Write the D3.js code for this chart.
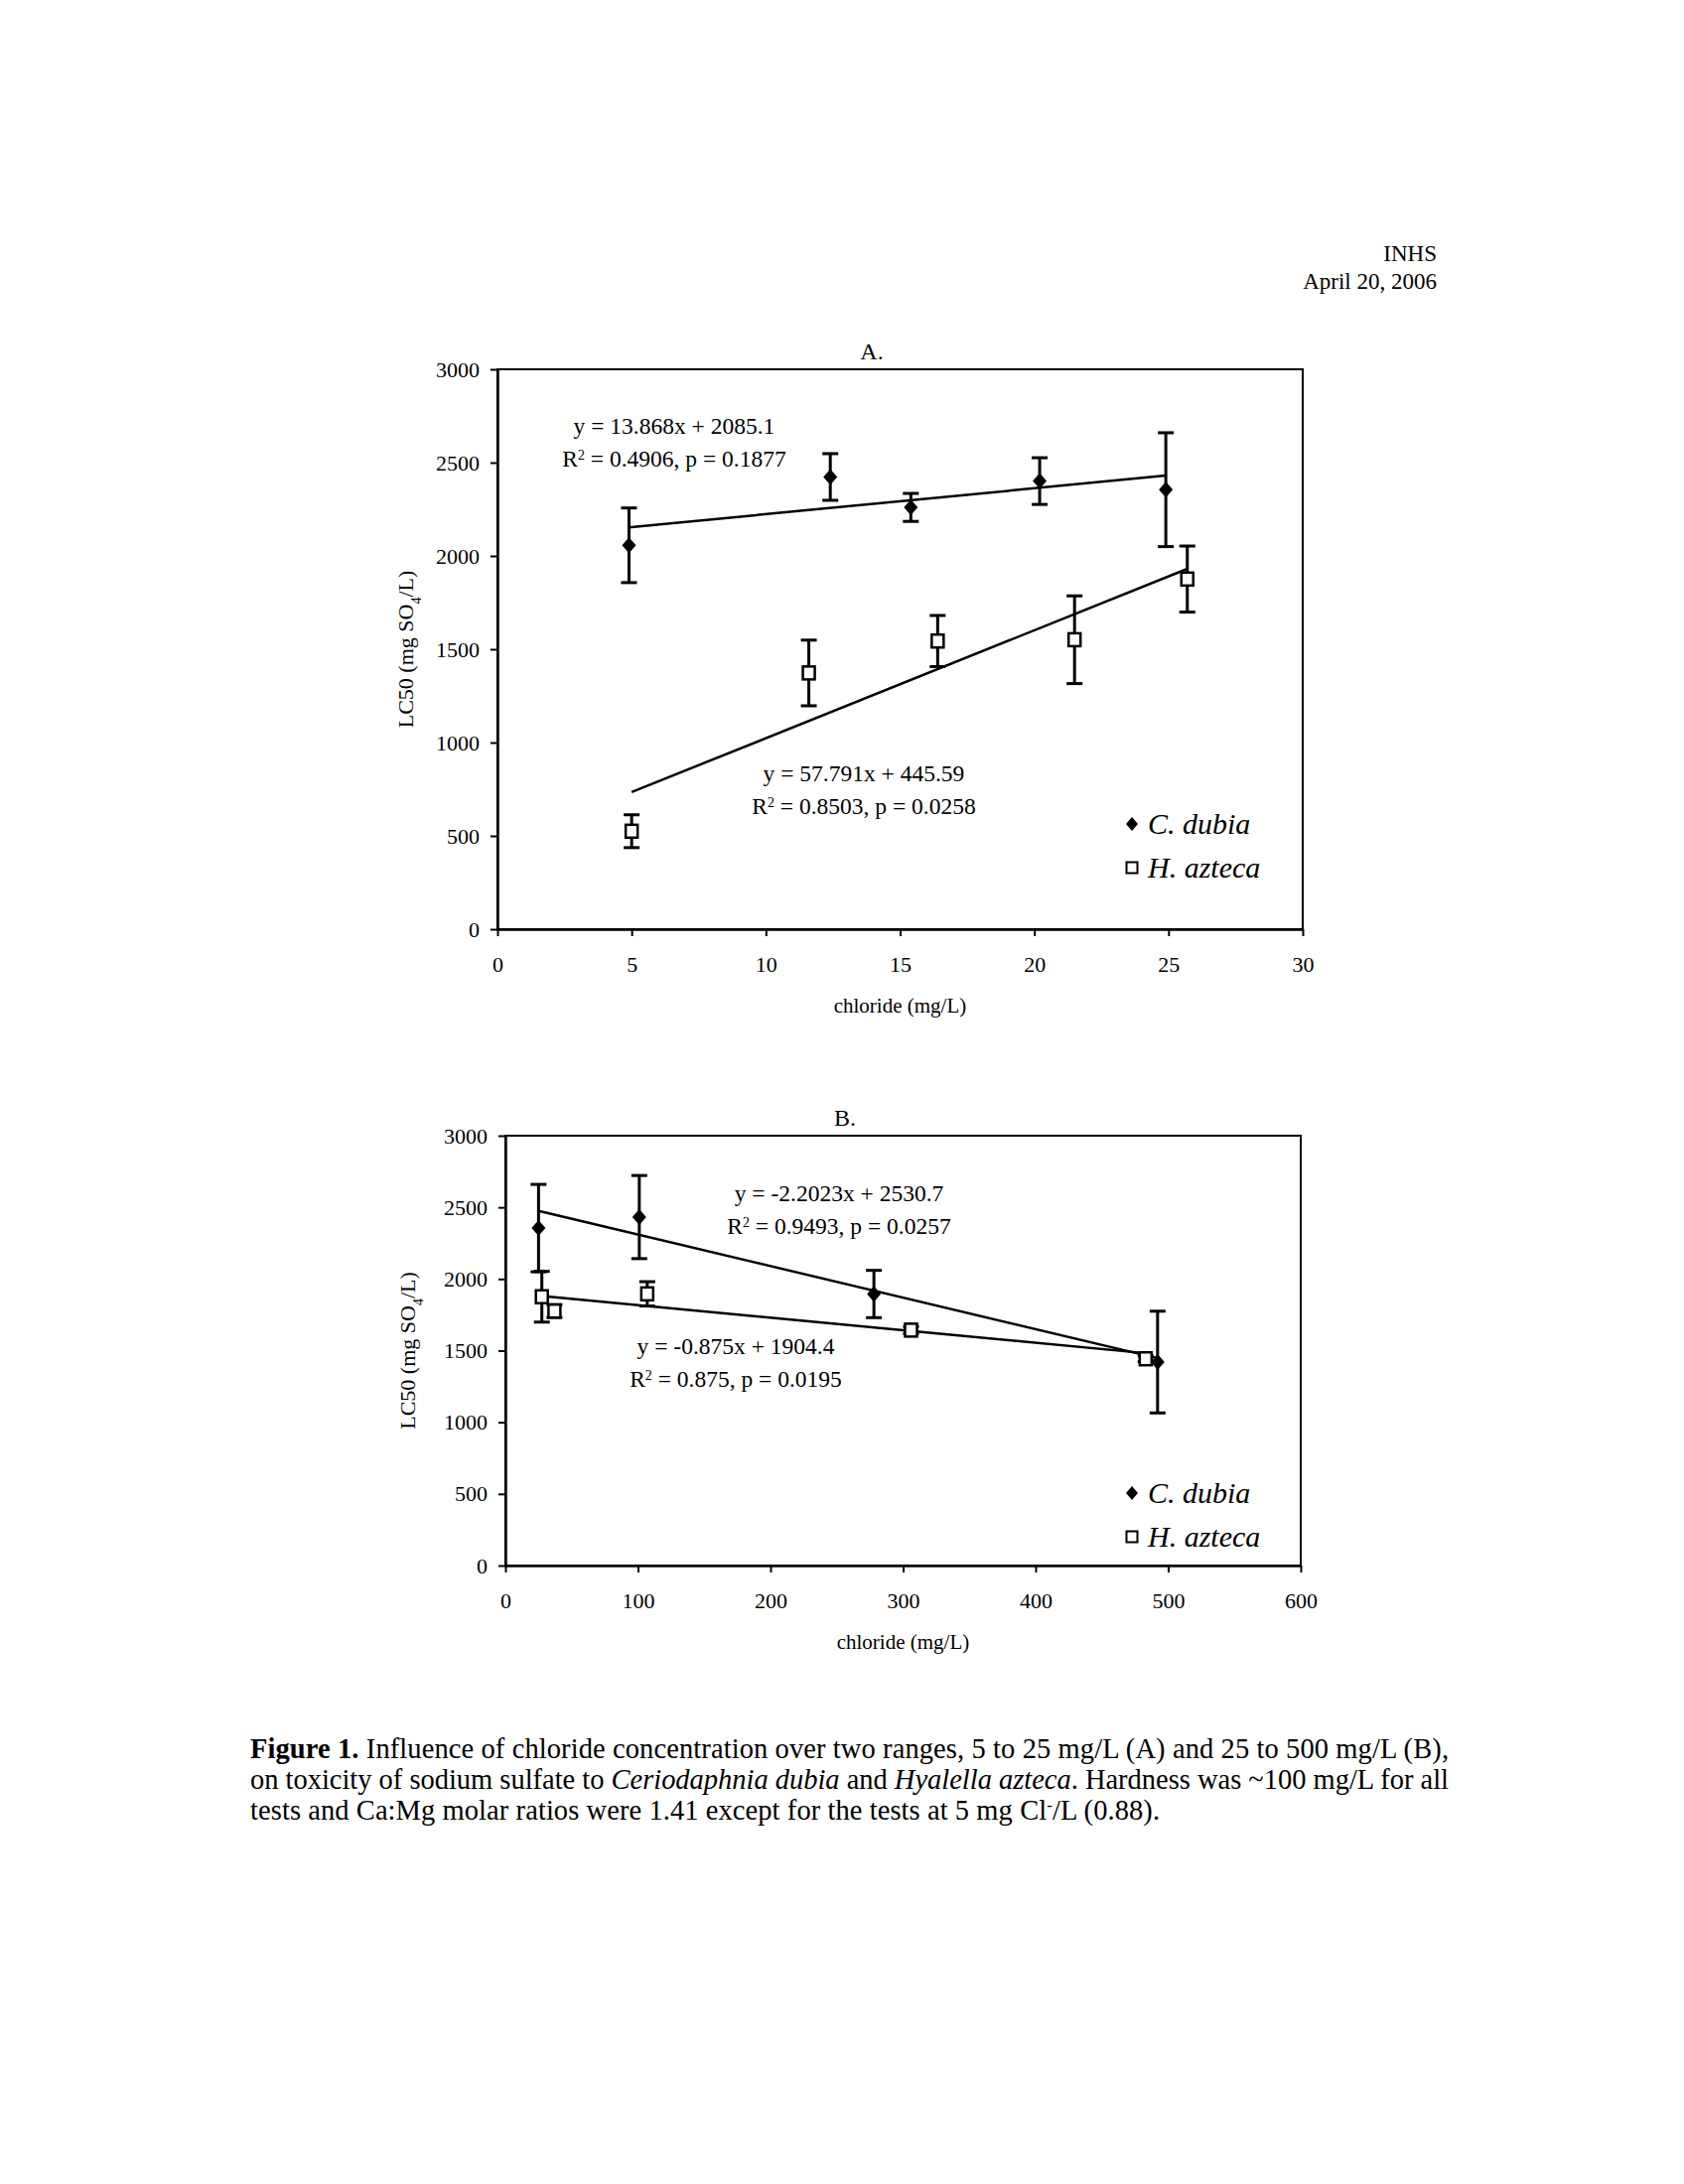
<!DOCTYPE html>
<html>
<head>
<meta charset="utf-8">
<script src="https://cdn.jsdelivr.net/npm/d3@7"></script>
<style>
  body { margin: 0; background: #fff; }
  svg text { font-family: "Liberation Serif", "Times New Roman", serif; fill: #000; }
</style>
</head>
<body>
<svg id="page" width="1696" height="2200"></svg>
<script>
// panel A: chloride 5 - 25 mg/L
var dubiaA_x   = [4.9, 12.4, 15.4, 20.2, 24.9];
var dubiaA_y   = [2057, 2423, 2260, 2401, 2355];
var dubiaA_err = [200, 125, 75, 125, 305];
var aztecaA_x   = [5.0, 11.6, 16.4, 21.5, 25.7];
var aztecaA_y   = [525, 1373, 1544, 1551, 1876];
var aztecaA_err = [88, 176, 137, 235, 177];
var fitA = { dubia: [13.868, 2085.1], azteca: [57.791, 445.59] };
var ticksA_x = [0, 5, 10, 15, 20, 25, 30];

// panel B: chloride 25 - 500 mg/L
var dubiaB_x   = [25, 101, 278, 492];
var dubiaB_y   = [2355, 2432, 1895, 1420];
var dubiaB_err = [305, 290, 165, 355];
var aztecaB_x   = [27.5, 37, 107, 306, 483];
var aztecaB_y   = [1876, 1776, 1896, 1643, 1443];
var aztecaB_err = [177, 45, 85, 25, 20];
var fitB = { dubia: [-2.2023, 2530.7], azteca: [-0.875, 1904.4] };
var ticksB_x = [0, 100, 200, 300, 400, 500, 600];

var ticks_y = [0, 500, 1000, 1500, 2000, 2500, 3000];

var svg = d3.select("#page");
svg.append("rect").attr("width", 1696).attr("height", 2200).attr("fill", "#fff");

// header
svg.append("text").attr("x", 1447).attr("y", 263).attr("text-anchor", "end")
   .style("font-size", "23px").text("INHS");
svg.append("text").attr("x", 1447).attr("y", 291).attr("text-anchor", "end")
   .style("font-size", "23px").text("April 20, 2006");

function series(xs, ys, es) {
    return xs.map(function (x, i) { return { x: x, y: ys[i], e: es[i] }; });
}

function draw_panel(p) {
    var x = d3.scaleLinear().domain(p.xdomain).range([p.left, p.right]);
    var y = d3.scaleLinear().domain([0, 3000]).range([p.bottom, p.top]);
    var g = svg.append("g");

    g.append("rect")
        .attr("x", p.left).attr("y", p.top)
        .attr("width", p.right - p.left).attr("height", p.bottom - p.top)
        .attr("fill", "none").attr("stroke", "#000").attr("stroke-width", 2);

    var ax = g.append("g").attr("transform", "translate(0," + p.bottom + ")")
        .call(d3.axisBottom(x).tickValues(p.xticks).tickFormat(d3.format("d"))
              .tickSize(7).tickSizeOuter(0).tickPadding(20));
    var ay = g.append("g").attr("transform", "translate(" + p.left + ",0)")
        .call(d3.axisLeft(y).tickValues(ticks_y).tickFormat(d3.format("d"))
              .tickSize(7).tickSizeOuter(0).tickPadding(11));
    [ax, ay].forEach(function (a) {
        a.select(".domain").attr("stroke-width", 2.5);
        a.selectAll(".tick line").attr("stroke-width", 2);
        a.selectAll("text").style("font-size", "22px").style("font-family", "Liberation Serif");
    });

    // titles
    g.append("text").attr("x", p.titleX).attr("y", p.top - 10).attr("text-anchor", "middle")
        .style("font-size", "24px").text(p.title);
    g.append("text").attr("x", (p.left + p.right) / 2).attr("y", p.bottom + 84)
        .attr("text-anchor", "middle").style("font-size", "21px").text("chloride (mg/L)");
    var yl = g.append("text")
        .attr("transform", "translate(" + p.ylabX + "," + ((p.top + p.bottom) / 2) + ") rotate(-90)")
        .attr("text-anchor", "middle").style("font-size", "22px");
    yl.append("tspan").text("LC50 (mg SO");
    yl.append("tspan").attr("baseline-shift", "sub").style("font-size", "14px").text("4");
    yl.append("tspan").text("/L)");

    // regression lines
    [["dubia", p.dubia], ["azteca", p.azteca]].forEach(function (s) {
        var f = p.fit[s[0]];
        var ext = d3.extent(s[1], function (d) { return d.x; });
        g.append("line")
            .attr("x1", x(ext[0])).attr("y1", y(f[0] * ext[0] + f[1]))
            .attr("x2", x(ext[1])).attr("y2", y(f[0] * ext[1] + f[1]))
            .attr("stroke", "#000").attr("stroke-width", 2.5);
    });

    // error bars
    var all = p.dubia.concat(p.azteca);
    var eb = g.selectAll(".eb").data(all).enter().append("g");
    eb.append("line")
        .attr("x1", function (d) { return x(d.x); }).attr("x2", function (d) { return x(d.x); })
        .attr("y1", function (d) { return y(d.y - d.e); }).attr("y2", function (d) { return y(d.y + d.e); })
        .attr("stroke", "#000").attr("stroke-width", 3);
    [-1, 1].forEach(function (sgn) {
        eb.append("line")
            .attr("x1", function (d) { return x(d.x) - 8; }).attr("x2", function (d) { return x(d.x) + 8; })
            .attr("y1", function (d) { return y(d.y + sgn * d.e); }).attr("y2", function (d) { return y(d.y + sgn * d.e); })
            .attr("stroke", "#000").attr("stroke-width", 3);
    });

    // markers
    g.selectAll(".dia").data(p.dubia).enter().append("path")
        .attr("d", function (d) {
            var cx = x(d.x), cy = y(d.y);
            return "M" + cx + "," + (cy - 8) + "L" + (cx + 7) + "," + cy + "L" + cx + "," + (cy + 8) + "L" + (cx - 7) + "," + cy + "Z";
        })
        .attr("fill", "#000");
    g.selectAll(".sq").data(p.azteca).enter().append("rect")
        .attr("x", function (d) { return x(d.x) - 6; }).attr("y", function (d) { return y(d.y) - 6.5; })
        .attr("width", 12).attr("height", 13)
        .attr("fill", "#fff").attr("stroke", "#000").attr("stroke-width", 2.5);

    // equations
    p.eqs.forEach(function (e) {
        g.append("text").attr("x", e.x).attr("y", e.y).attr("text-anchor", "middle")
            .style("font-size", "23.5px").text(e.l1);
        var t = g.append("text").attr("x", e.x).attr("y", e.y + 33).attr("text-anchor", "middle")
            .style("font-size", "23.5px");
        t.append("tspan").text("R");
        t.append("tspan").attr("baseline-shift", "super").style("font-size", "14px").text("2");
        t.append("tspan").text(e.l2);
    });

    // legend
    var lx = 1140, ly = p.legY;
    g.append("path")
        .attr("d", "M" + lx + "," + (ly - 7) + "L" + (lx + 6) + "," + ly + "L" + lx + "," + (ly + 7) + "L" + (lx - 6) + "," + ly + "Z")
        .attr("fill", "#000");
    g.append("text").attr("x", lx + 16).attr("y", ly + 10).style("font-size", "30px")
        .style("font-style", "italic").text("C. dubia");
    g.append("rect").attr("x", lx - 5.5).attr("y", ly + 44 - 5.5).attr("width", 11).attr("height", 11)
        .attr("fill", "#fff").attr("stroke", "#000").attr("stroke-width", 2);
    g.append("text").attr("x", lx + 16).attr("y", ly + 54).style("font-size", "30px")
        .style("font-style", "italic").text("H. azteca");
}

draw_panel({
    left: 501, right: 1312, top: 372, bottom: 936,
    xdomain: [0, 30], xticks: ticksA_x, title: "A.", titleX: 878, ylabX: 416,
    dubia: series(dubiaA_x, dubiaA_y, dubiaA_err),
    azteca: series(aztecaA_x, aztecaA_y, aztecaA_err),
    fit: fitA,
    eqs: [
        { x: 679, y: 437, l1: "y = 13.868x + 2085.1", l2: " = 0.4906, p = 0.1877" },
        { x: 870, y: 787, l1: "y = 57.791x + 445.59", l2: " = 0.8503, p = 0.0258" }
    ],
    legY: 830
});

draw_panel({
    left: 509, right: 1310, top: 1144, bottom: 1577,
    xdomain: [0, 600], xticks: ticksB_x, title: "B.", titleX: 851, ylabX: 418,
    dubia: series(dubiaB_x, dubiaB_y, dubiaB_err),
    azteca: series(aztecaB_x, aztecaB_y, aztecaB_err),
    fit: fitB,
    eqs: [
        { x: 845, y: 1210, l1: "y = -2.2023x + 2530.7", l2: " = 0.9493, p = 0.0257" },
        { x: 741, y: 1364, l1: "y = -0.875x + 1904.4", l2: " = 0.875, p = 0.0195" }
    ],
    legY: 1504
});

// caption
var cap = svg.append("g").style("font-size", "28.5px");
var c1 = cap.append("text").attr("x", 252).attr("y", 1771).attr("textLength", 1207).attr("lengthAdjust", "spacing");
c1.append("tspan").style("font-weight", "bold").text("Figure 1.");
c1.append("tspan").text("  Influence of chloride concentration over two ranges, 5 to 25 mg/L (A) and 25 to 500 mg/L (B),");
var c2 = cap.append("text").attr("x", 252).attr("y", 1802).attr("textLength", 1207).attr("lengthAdjust", "spacing");
c2.append("tspan").text("on toxicity of sodium sulfate to ");
c2.append("tspan").style("font-style", "italic").text("Ceriodaphnia dubia");
c2.append("tspan").text(" and ");
c2.append("tspan").style("font-style", "italic").text("Hyalella azteca");
c2.append("tspan").text(".  Hardness was ~100 mg/L for all");
var c3 = cap.append("text").attr("x", 252).attr("y", 1833).attr("textLength", 916).attr("lengthAdjust", "spacing");
c3.append("tspan").text("tests and Ca:Mg molar ratios were 1.41 except for the tests at 5 mg Cl");
c3.append("tspan").attr("baseline-shift", "super").style("font-size", "17px").text("-");
c3.append("tspan").text("/L (0.88).");
</script>
</body>
</html>
